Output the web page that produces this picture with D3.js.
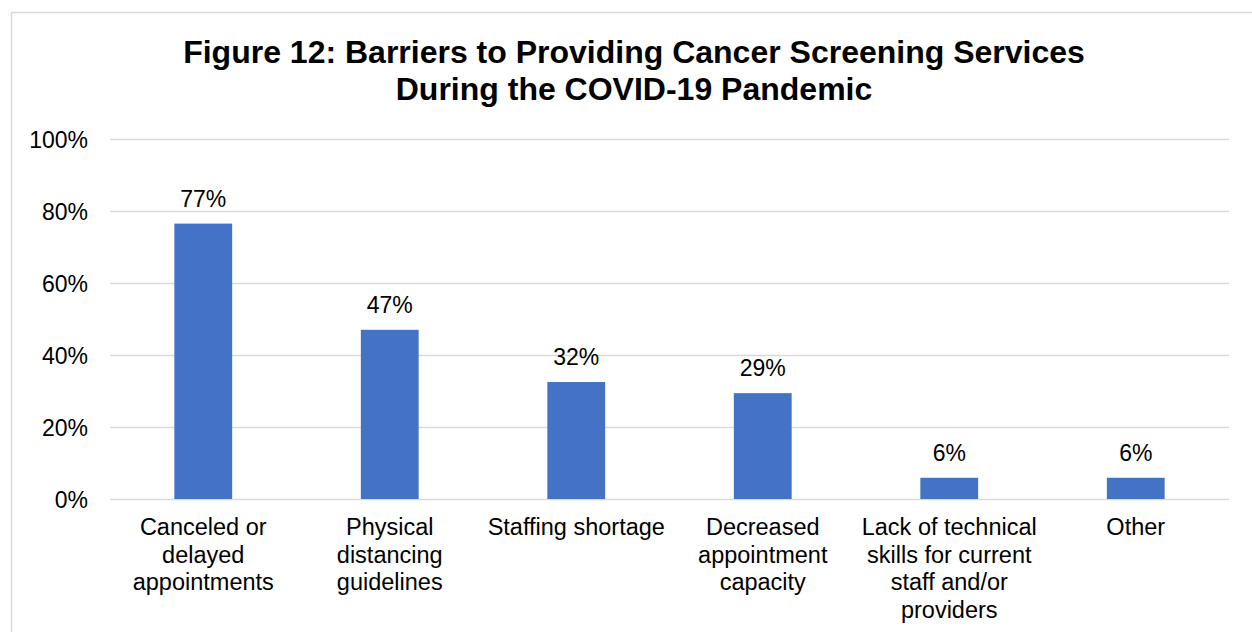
<!DOCTYPE html>
<html>
<head>
<meta charset="utf-8">
<script src="https://cdn.jsdelivr.net/npm/d3@7"></script>
<style>
  body { margin: 0; background: #fff; }
  text { font-family: "Liberation Sans", Arial, sans-serif; fill: #000; }
</style>
</head>
<body>
<div id="chart"></div>
<script>
// data
var categories = [
  ["Canceled or", "delayed", "appointments"],
  ["Physical", "distancing", "guidelines"],
  ["Staffing shortage"],
  ["Decreased", "appointment", "capacity"],
  ["Lack of technical", "skills for current", "staff and/or", "providers"],
  ["Other"]
];
var values = [76.5, 47, 32.5, 29.4, 5.9, 5.9];
var labels = ["77%", "47%", "32%", "29%", "6%", "6%"];
var yTicks = [0, 20, 40, 60, 80, 100];
var titleLines = ["Figure 12: Barriers to Providing Cancer Screening Services",
                  "During the COVID-19 Pandemic"];

var W = 1252, H = 632;
var margin = {top: 139, right: 23, bottom: 133, left: 110},
    width = W - margin.left - margin.right,
    height = H - margin.top - margin.bottom;

var svg = d3.select("#chart")
  .append("svg")
    .attr("width", W)
    .attr("height", H);

// chart border (right/bottom run off the page)
svg.append("rect")
  .attr("x", 11.5).attr("y", 12.5)
  .attr("width", W + 20).attr("height", H + 20)
  .attr("fill", "none")
  .attr("stroke", "#d9d9d9")
  .attr("stroke-width", 1.5);

// title
svg.append("g").selectAll("text")
  .data(titleLines)
  .enter()
  .append("text")
    .attr("x", 634)
    .attr("y", function(d, i) { return 63 + i * 36.5 })
    .attr("text-anchor", "middle")
    .style("font-size", "32px")
    .style("font-weight", "bold")
    .text(function(d) { return d });

var g = svg.append("g")
  .attr("transform", "translate(" + margin.left + "," + margin.top + ")");

var x = d3.scaleBand()
  .domain(d3.range(categories.length))
  .range([0, width])
  .paddingInner(0.69)
  .paddingOuter(0.345);

var y = d3.scaleLinear()
  .domain([0, 100])
  .range([height, 0]);

// gridlines + y labels
var yAxis = g.append("g")
  .call(d3.axisLeft(y).tickValues(yTicks).tickSize(-width).tickFormat(function(d) { return d + "%" }));
yAxis.select(".domain").remove();
yAxis.selectAll("line")
  .attr("stroke", "#d9d9d9")
  .attr("stroke-width", 1.5);
yAxis.selectAll("text")
  .attr("x", -22)
  .attr("dy", "0.36em")
  .style("font-size", "23px")
  .style("font-family", "'Liberation Sans', Arial, sans-serif")
  .attr("fill", "#000");

// bars
g.append("g").selectAll("rect")
  .data(values)
  .enter()
  .append("rect")
    .attr("x", function(d, i) { return x(i) })
    .attr("y", function(d) { return y(d) })
    .attr("width", x.bandwidth())
    .attr("height", function(d) { return height - y(d) })
    .attr("fill", "#4472c4");

// data labels
g.append("g").selectAll("text")
  .data(values)
  .enter()
  .append("text")
    .attr("x", function(d, i) { return x(i) + x.bandwidth() / 2 })
    .attr("y", function(d) { return y(d) - 17 })
    .attr("text-anchor", "middle")
    .style("font-size", "23px")
    .text(function(d, i) { return labels[i] });

// category labels
var cat = g.append("g").selectAll("text")
  .data(categories)
  .enter()
  .append("text")
    .attr("x", function(d, i) { return x(i) + x.bandwidth() / 2 })
    .attr("y", height + 36)
    .attr("text-anchor", "middle")
    .style("font-size", "23.5px");
cat.selectAll("tspan")
  .data(function(d) { return d })
  .enter()
  .append("tspan")
    .attr("x", function() { return d3.select(this.parentNode).attr("x") })
    .attr("dy", function(d, i) { return i == 0 ? 0 : 27.5 })
    .text(function(d) { return d });
</script>
</body>
</html>
